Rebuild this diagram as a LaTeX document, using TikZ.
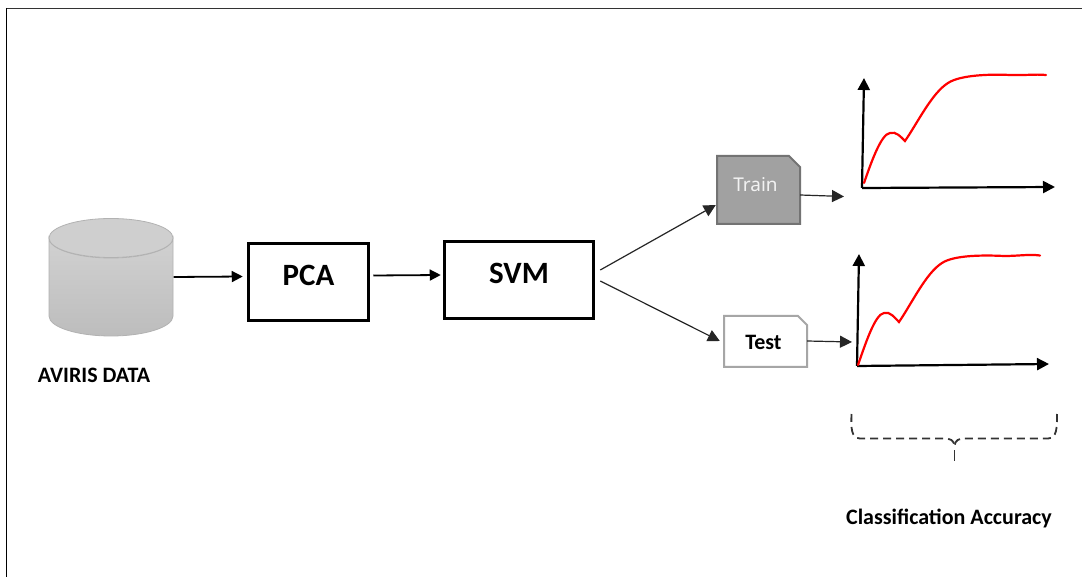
\documentclass[tikz,border=0pt]{standalone}
\usepackage{fontspec}
\setmainfont{Carlito}
\newfontfamily\trainfont{Noto Sans}
\usetikzlibrary{arrows.meta,calc}
\tikzset{
  procbox/.style={draw=black,line width=2.5pt,fill=white,font=\bfseries\fontsize{31}{34}\selectfont,inner sep=0pt,text depth=14pt},
  flow/.style={draw=black,line width=1.8pt,-{Triangle[length=11pt,width=11pt]}},
  thin flow/.style={draw=black!85,line width=1.2pt,-{Triangle[length=12pt,width=12pt]}},
  axis/.style={draw=black,line width=2.2pt,-{Triangle[length=12pt,width=12pt]}},
  curve/.style={draw=red,line width=2.2pt,line cap=round},
  lbl/.style={font=\bfseries\fontsize{22}{24}\selectfont,inner sep=0pt},
  doc/.style={minimum width=83pt,inner sep=0pt},
  brace/.style={draw=black!80,line width=1.8pt,dash pattern=on 8pt off 5pt},
}
\begin{document}
\begin{tikzpicture}[x=1pt,y=-1pt]
\useasboundingbox (0,0) rectangle (1082,577);
\fill[white] (0,0) rectangle (1082,577);
% frame
\draw[black!80,line width=1.4pt] (1082,8.5) -- (6.5,8.5);
\draw[black,line width=1.8pt] (6.5,8) -- (6.5,577);
% cylinder
\node[minimum width=125pt,minimum height=118pt,inner sep=0pt] (db) at (111,277) {};
\path[draw=black!30,line width=0.8pt,top color=black!18,bottom color=black!26]
  (49,238) -- (49,316) arc[start angle=180,end angle=360,x radius=62,y radius=-20] -- (173,238)
  arc[start angle=0,end angle=-180,x radius=62,y radius=-20] -- cycle;
\draw[black!30,line width=0.8pt,fill=black!19] (111,238) ellipse[x radius=62,y radius=19.5];
\node[lbl,anchor=center] (dbl) at (94,375) {AVIRIS DATA};
% boxes
\node[procbox,minimum width=120pt,minimum height=77pt] (pca) at (308.5,282) {PCA};
\node[procbox,minimum width=149pt,minimum height=77pt] (svm) at (519,280) {SVM};
% train
\node[doc,minimum height=68pt] (train) at (758.5,190) {};
\draw[draw=black!55,fill=black!37,line width=2pt]
  (717,156) -- (789,156) -- (800,167) -- (800,224) -- (717,224) -- cycle;
\node[text=white!95!black,font=\trainfont\fontsize{19}{21}\selectfont,inner sep=0pt] (trainl) at (755.5,184.5) {Train};
% test
\node[doc,minimum height=51pt] (test) at (765.5,341.5) {};
\draw[draw=black!35,fill=white,line width=2pt]
  (724,316) -- (798,316) -- (807,325) -- (807,367) -- (724,367) -- cycle;
\node[lbl,inner sep=0pt] (testl) at (763.5,342) {Test};
% connection points
\coordinate (pcaIn) at ($(pca.west)+(-4.5,-5.5)$);
\coordinate (pcaOut) at ($(pca.east)+(3.5,-6.5)$);
\coordinate (svmIn) at ($(svm.west)+(-2.5,-5)$);
\coordinate (svmA) at ($(svm.east)+(5.5,-10)$);
\coordinate (svmB) at ($(svm.east)+(5.5,1)$);
\coordinate (trainIn) at ($(train.west)+(-1,15)$);
\coordinate (testIn) at ($(test.west)+(-4,-0.5)$);
\coordinate (trainOut) at ($(train.east)+(0,5)$);
\coordinate (testOut) at ($(test.east)+(0,-0.5)$);
\coordinate (t1) at (844,196.5);
\coordinate (t2) at (852,342);
% connectors
\draw[flow] (db.east) -- (pcaIn);
\draw[flow] (pcaOut) -- (svmIn);
\draw[thin flow] (svmA) -- (trainIn);
\draw[thin flow] (svmB) -- (testIn);
\draw[thin flow] (trainOut) -- (t1);
\draw[thin flow] (testOut) -- (t2);
% plot 1
\coordinate (o1) at (862,188);
\coordinate (y1) at (864,78);
\coordinate (x1) at (1055,187);
\draw[axis] (o1) -- (y1);
\draw[axis] (o1) -- (x1);
\draw[curve] (864,183) .. controls (871,163) and (881,134) .. (890,133)
  .. controls (896,131) and (901,137) .. (905,141)
  .. controls (918,122) and (932,93) .. (948,83)
  .. controls (960,75) and (990,74) .. (1010,75)
  .. controls (1025,75.5) and (1035,74) .. (1046,75);
% plot 2
\coordinate (o2) at (857,366);
\coordinate (y2) at (859,254);
\coordinate (x2) at (1049,364);
\draw[axis] (o2) -- (y2);
\draw[axis] (o2) -- (x2);
\draw[curve] (858,365) .. controls (865,345) and (875,314) .. (884,313)
  .. controls (890,311) and (895,318) .. (899,322)
  .. controls (912,303) and (926,273) .. (942,263)
  .. controls (954,255) and (984,255) .. (1004,256)
  .. controls (1019,256) and (1029,254) .. (1040,255.5);
% brace
\draw[brace] (851.5,414) .. controls (851,428) and (851,438) .. (860,438.5) -- (944,438.5)
  .. controls (950,438.5) and (954,440) .. (954.5,446);
\draw[brace] (1057,414) .. controls (1057,428) and (1057,438) .. (1048,438.5) -- (965,438.5)
  .. controls (959,438.5) and (955,440) .. (954.5,446);
\draw[black!80,line width=1.8pt] (954.5,450) -- (954.5,461);
\node[lbl] (cap) at (949,518.5) {Classification Accuracy};
\end{tikzpicture}
\end{document}
